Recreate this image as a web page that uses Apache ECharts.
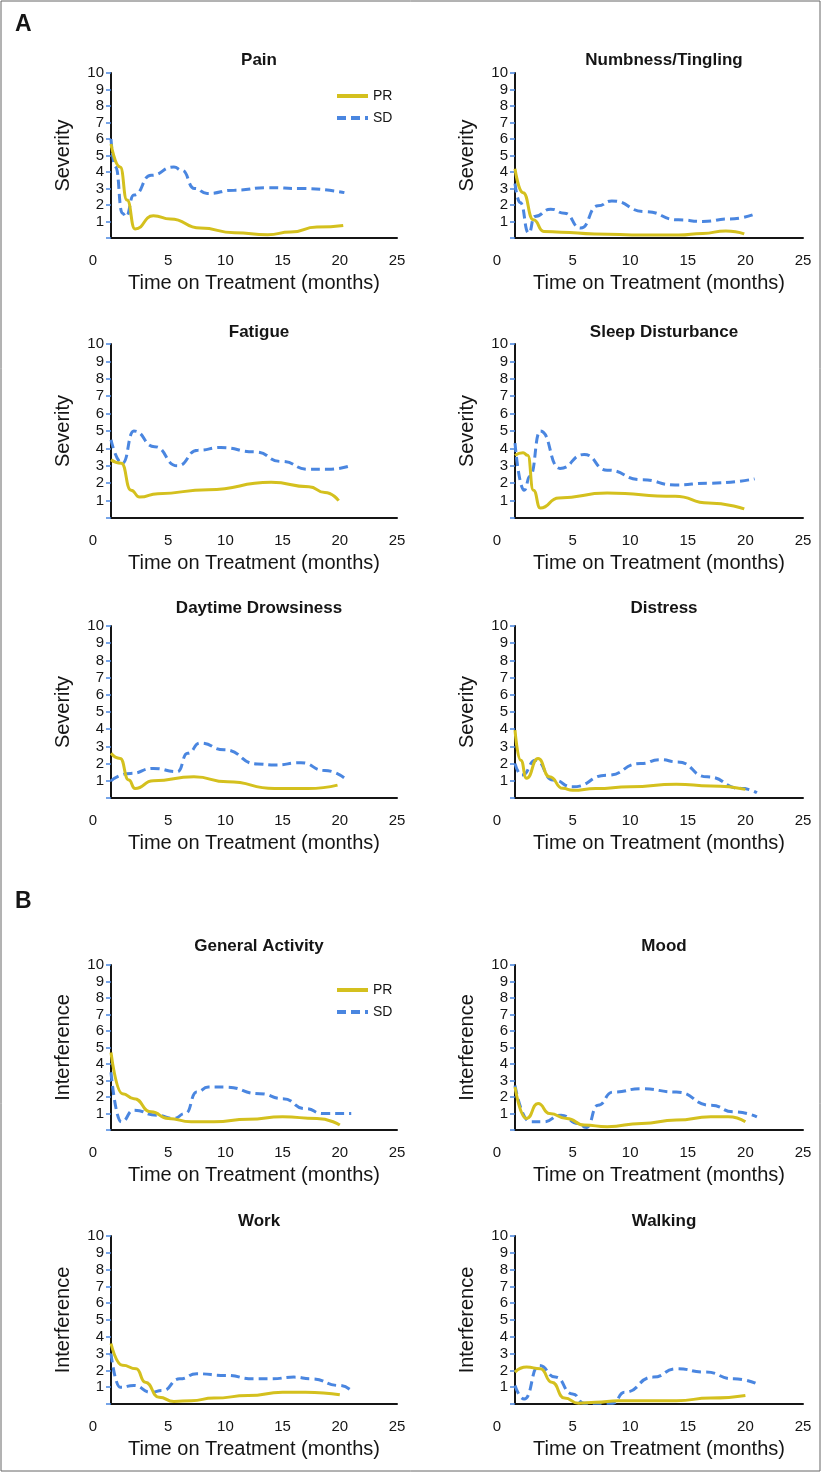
<!DOCTYPE html>
<html>
<head>
<meta charset="utf-8">
<title>Symptom severity and interference by response</title>
<script src="https://cdn.jsdelivr.net/npm/echarts@6/dist/echarts.min.js"></script>
<style>
  html, body { margin: 0; padding: 0; background: #fff; }
  #chart { width: 823px; height: 1473px; }
</style>
</head>
<body>
<div id="chart"></div>
<script>
// ---------------------------- BEGIN DATA ---------------------------------
var panelTitles = ['Pain', 'Numbness/Tingling', 'Fatigue', 'Sleep Disturbance',
  'Daytime Drowsiness', 'Distress', 'General Activity', 'Mood', 'Work', 'Walking'];
var panelYNames = ['Severity', 'Severity', 'Severity', 'Severity', 'Severity',
  'Severity', 'Interference', 'Interference', 'Interference', 'Interference'];
var seriesNames = ['PR', 'SD'];
var xTickValues = [0, 5, 10, 15, 20, 25];
var yTickValues = [1, 2, 3, 4, 5, 6, 7, 8, 9, 10];

// [month, score]
var painPR = [[0, 5.7], [0.8, 4.3], [1.4, 2.3], [2.1, 0.55], [3.7, 1.35], [5.2, 1.15],
  [7.8, 0.6], [10.8, 0.32], [13.7, 0.2], [15.7, 0.36], [18, 0.66], [20.3, 0.76]];
var painSD = [[0, 6.0], [0.4, 4.3], [1.0, 1.5], [1.3, 1.3], [2, 2.6], [3.5, 3.8],
  [5.5, 4.3], [6.2, 4.1], [7.3, 3.0], [8.4, 2.7], [10.8, 2.9], [13.7, 3.05],
  [16.6, 3.0], [20.4, 2.75]];
var numbPR = [[0, 4.2], [0.7, 2.75], [1.6, 1.1], [2.5, 0.4], [4, 0.35], [6.9, 0.25],
  [11.3, 0.18], [14.2, 0.18], [16.3, 0.28], [18.3, 0.43], [19.9, 0.25]];
var numbSD = [[0, 3.3], [0.45, 2.15], [1.2, 0.3], [1.7, 1.3], [3.1, 1.75], [4.3, 1.5],
  [5.7, 0.6], [7.2, 1.95], [8.4, 2.25], [11.3, 1.6], [14.2, 1.1], [16.3, 1.0],
  [18.6, 1.15], [21, 1.5]];
var fatPR = [[0, 3.35], [0.9, 3.15], [1.75, 1.6], [2.5, 1.2], [4.1, 1.4], [8.5, 1.63],
  [14, 2.05], [17.3, 1.8], [18.7, 1.47], [19.9, 1.0]];
var fatSD = [[0, 4.5], [1, 3.15], [2, 5.0], [3.8, 4.1], [5.8, 3.0], [7.6, 3.9],
  [9.6, 4.05], [12.6, 3.8], [14.9, 3.25], [17.25, 2.8], [19, 2.8], [20.9, 3.0]];
var sleepPR = [[0, 3.6], [0.7, 3.75], [1.1, 3.6], [1.6, 1.6], [2.2, 0.57], [3.8, 1.15],
  [8, 1.43], [13.9, 1.25], [16.8, 0.86], [19.9, 0.52]];
var sleepSD = [[0, 4.3], [0.8, 1.6], [1.3, 2.4], [2.2, 5.0], [3.9, 2.85], [6, 3.65],
  [8, 2.75], [11, 2.2], [13.9, 1.9], [16.8, 2.0], [20.8, 2.25]];
var dayPR = [[0, 2.6], [0.8, 2.3], [1.55, 1.05], [2.1, 0.55], [3.7, 1.0], [7.25, 1.23],
  [10.2, 0.94], [14.3, 0.55], [17.2, 0.55], [19.8, 0.75]];
var daySD = [[0, 1.0], [1.7, 1.43], [3.7, 1.72], [5.8, 1.53], [6.7, 2.6], [7.8, 3.2],
  [9.9, 2.8], [12.8, 1.98], [14.3, 1.92], [16.6, 2.05], [18.7, 1.6], [20.6, 1.05]];
var distPR = [[0, 3.95], [0.5, 2.2], [1, 1.15], [2, 2.3], [3, 1.23], [4.15, 0.56],
  [5, 0.45], [7, 0.55], [10, 0.65], [14, 0.8], [17, 0.7], [20, 0.5]];
var distSD = [[0, 2.0], [0.6, 1.33], [1.8, 2.2], [3.3, 1.04], [5, 0.65], [8, 1.33],
  [10.9, 2.0], [12.6, 2.23], [14.1, 2.1], [16.7, 1.23], [19.6, 0.56], [21, 0.3]];
var genPR = [[0, 4.7], [1, 2.2], [2, 1.9], [3.5, 1.1], [5, 0.7], [7, 0.5], [9, 0.5],
  [12, 0.65], [15, 0.8], [18, 0.7], [20, 0.3]];
var genSD = [[0, 3.5], [0.9, 0.5], [2, 1.2], [4, 0.9], [5.5, 0.7], [6.5, 1.0],
  [7.5, 2.3], [8.5, 2.6], [10, 2.6], [13, 2.2], [15, 1.9], [17, 1.3], [18.5, 1.0],
  [21, 1.0]];
var moodPR = [[0, 2.6], [1, 0.7], [2, 1.6], [3, 1.0], [4.5, 0.7], [6, 0.3], [8, 0.2],
  [11, 0.4], [14, 0.6], [17, 0.8], [18.5, 0.8], [20, 0.5]];
var moodSD = [[0, 2.7], [1.3, 0.5], [2.5, 0.5], [4, 0.9], [5.5, 0.4], [6.2, 0.15],
  [7.2, 1.5], [8.5, 2.3], [11, 2.5], [14, 2.3], [17, 1.5], [19, 1.1], [21, 0.8]];
var workPR = [[0, 3.6], [1, 2.3], [2.2, 2.1], [3, 1.3], [4.2, 0.4], [5.5, 0.15],
  [7, 0.2], [9, 0.35], [12, 0.5], [15, 0.7], [17, 0.7], [20, 0.55]];
var workSD = [[0, 3.0], [0.8, 1.0], [2, 1.1], [3.5, 0.7], [4.5, 0.8], [6, 1.5],
  [7.5, 1.8], [10, 1.7], [12.5, 1.5], [14, 1.5], [16, 1.6], [17.5, 1.5], [20, 1.1],
  [21, 0.8]];
var walkPR = [[0, 1.9], [1, 2.2], [2.2, 2.1], [3.2, 1.3], [4.3, 0.35], [5.5, 0.05],
  [7, 0.1], [9, 0.2], [14, 0.2], [17, 0.35], [20, 0.5]];
var walkSD = [[0, 1.1], [0.8, 0.3], [2.1, 2.3], [3.5, 1.6], [5, 0.6], [6, 0.05],
  [8.5, 0.05], [9.5, 0.7], [12, 1.6], [14, 2.1], [16.5, 1.9], [19, 1.5], [21, 1.2]];

var prData = [painPR, numbPR, fatPR, sleepPR, dayPR, distPR, genPR, moodPR, workPR, walkPR];
var sdData = [painSD, numbSD, fatSD, sleepSD, daySD, distSD, genSD, moodSD, workSD, walkSD];
// ----------------------------- END DATA ----------------------------------

// --------------------------- BEGIN LAYOUT --------------------------------
var colLeft = [111, 515];
var colWidth = [286, 288];
var rowTop = [73, 344, 626, 965, 1236];
var rowBottom = [238, 518, 798, 1130, 1404];
var titleTop = [47, 319, 595, 933, 1208];
var legendTop = [84, 978];

var prColor = '#d4c01e';
var sdColor = '#4a86e0';
var inkColor = '#151515';
var fontFamily = '"Liberation Sans", Arial, sans-serif';
// ---------------------------- END LAYOUT ---------------------------------

var buildOption = function () {
  var grids = [], xAxes = [], yAxes = [], series = [], titles = [], i, row, col;

  for (i = 0; i < panelTitles.length; i++) {
    row = Math.floor(i / 2);
    col = i % 2;

    grids.push({
      left: colLeft[col],
      top: rowTop[row],
      width: colWidth[col],
      height: rowBottom[row] - rowTop[row]
    });

    titles.push({
      text: panelTitles[i],
      left: colLeft[col] + colWidth[col] / 2,
      top: titleTop[row],
      textAlign: 'center',
      textStyle: { fontSize: 17, fontWeight: 'bold', color: inkColor, fontFamily: fontFamily }
    });

    xAxes.push({
      gridIndex: i,
      type: 'value',
      min: xTickValues[0],
      max: xTickValues[xTickValues.length - 1],
      interval: xTickValues[1] - xTickValues[0],
      splitLine: { show: false },
      axisTick: { show: false },
      axisLine: { lineStyle: { color: inkColor, width: 2 } },
      axisLabel: {
        margin: 15,
        fontSize: 15,
        color: inkColor,
        fontFamily: fontFamily,
        formatter: function (v) { return v === 0 ? '{z|0}' : String(v); },
        rich: { z: { fontSize: 15, color: inkColor, fontFamily: fontFamily, padding: [0, 36, 0, 0] } }
      },
      name: 'Time on Treatment (months)',
      nameLocation: 'middle',
      nameGap: 35,
      nameTextStyle: { fontSize: 20, color: inkColor, fontFamily: fontFamily }
    });

    yAxes.push({
      gridIndex: i,
      type: 'value',
      min: 0,
      max: yTickValues[yTickValues.length - 1],
      interval: yTickValues[1] - yTickValues[0],
      splitLine: { show: false },
      axisLine: { show: true, lineStyle: { color: inkColor, width: 2 } },
      axisTick: { show: true, length: 5, lineStyle: { color: sdColor, width: 1.5 } },
      axisLabel: {
        margin: 7,
        fontSize: 15,
        color: inkColor,
        fontFamily: fontFamily,
        formatter: function (v) { return yTickValues.indexOf(v) >= 0 ? String(v) : ''; }
      },
      name: panelYNames[i],
      nameLocation: 'middle',
      nameRotate: 90,
      nameGap: 38,
      nameTextStyle: { fontSize: 20, color: inkColor, fontFamily: fontFamily }
    });

    series.push({
      name: seriesNames[0],
      type: 'line',
      xAxisIndex: i,
      yAxisIndex: i,
      data: prData[i],
      smooth: 0.55,
      smoothMonotone: 'x',
      symbol: 'none',
      color: prColor,
      lineStyle: { color: prColor, width: 3 },
      z: 3
    });
    series.push({
      name: seriesNames[1],
      type: 'line',
      xAxisIndex: i,
      yAxisIndex: i,
      data: sdData[i],
      smooth: 0.55,
      smoothMonotone: 'x',
      symbol: 'none',
      color: sdColor,
      lineStyle: { color: sdColor, width: 3, type: [9, 5] },
      z: 2
    });
  }

  return {
    animation: false,
    backgroundColor: '#fff',
    textStyle: { fontFamily: fontFamily },
    title: titles,
    legend: legendTop.map(function (t) {
      return {
        data: seriesNames,
        orient: 'vertical',
        left: 330,
        top: t,
        itemWidth: 31,
        itemHeight: 14,
        itemGap: 8,
        selectedMode: false,
        // hide the legend marker, keep only the line sample
        itemStyle: { opacity: 0 },
        lineStyle: { width: 4 },
        textStyle: { fontSize: 14, color: inkColor, fontFamily: fontFamily }
      };
    }),
    grid: grids,
    xAxis: xAxes,
    yAxis: yAxes,
    series: series,
    graphic: [
      {
        type: 'rect',
        shape: { x: 1, y: 1, width: 819, height: 1470 },
        style: { fill: 'none', stroke: '#666', lineWidth: 1 },
        silent: true
      },
      {
        type: 'text', left: 15, top: 13,
        style: { text: 'A', fontSize: 23, fontWeight: 'bold', fill: inkColor, fontFamily: fontFamily }
      },
      {
        type: 'text', left: 15, top: 890,
        style: { text: 'B', fontSize: 23, fontWeight: 'bold', fill: inkColor, fontFamily: fontFamily }
      }
    ]
  };
};

var chart = echarts.init(document.getElementById('chart'), null, { renderer: 'canvas' });
chart.setOption(buildOption());
</script>
</body>
</html>
